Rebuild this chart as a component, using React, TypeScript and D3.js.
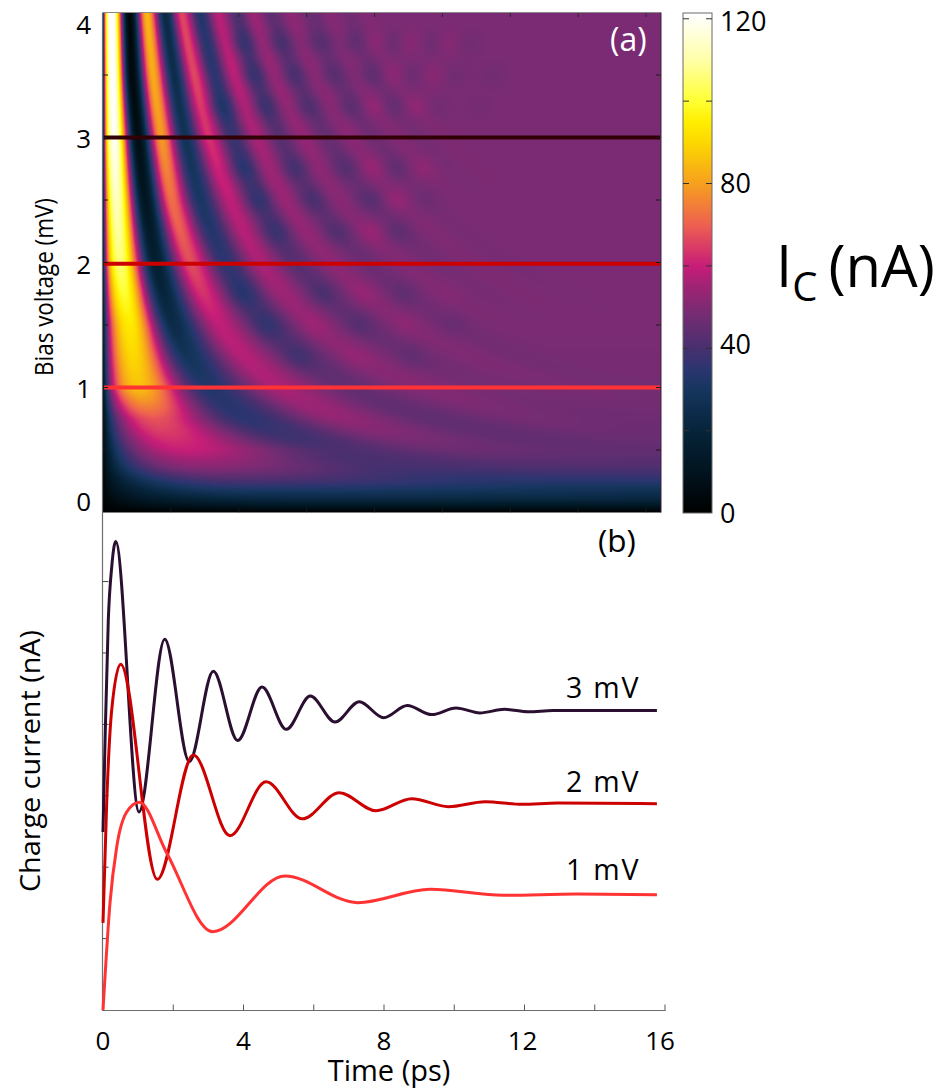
import React, { useMemo } from "react";
import * as d3 from "d3";

// ---------- Panel (b): extrema and shoulders of the traces (ps, nA incl. offset)
const trace3Time = [0, 0.057, 0.151, 0.248, 0.362, 1.025, 1.757, 2.457, 3.14, 3.835, 4.527, 5.219, 5.902, 6.605, 7.297, 7.991, 8.663, 9.358, 10.05, 10.73, 11.43, 12.11, 12.81, 15.77];
const trace3Value = [74.8, 112.2, 163.9, 186.1, 196.8, 83.2, 155.8, 104.3, 142.3, 113.2, 135.7, 117.9, 131.9, 121.0, 129.5, 122.8, 127.9, 124.1, 126.9, 124.8, 126.3, 125.3, 125.8, 125.8];
const trace2Time = [0, 0.105, 0.248, 0.504, 1.546, 2.571, 3.616, 4.641, 5.674, 6.727, 7.772, 8.789, 9.831, 10.875, 11.92, 12.95, 15.77];
const trace2Value = [36.6, 87.0, 126.1, 145.3, 54.9, 107.1, 73.2, 95.9, 80.3, 91.3, 83.7, 88.8, 85.4, 87.5, 86.4, 87.0, 86.7];
const trace1Time = [0, 0.057, 0.199, 0.39, 0.675, 1.033, 1.814, 3.123, 5.181, 7.251, 9.31, 11.4, 13.49, 15.77];
const trace1Value = [0, 13.9, 45, 68.5, 83.2, 87.3, 66, 32.9, 56.3, 45.1, 50.7, 48.2, 48.7, 48.4];
const traceColors = ["#2a0f30", "#cc0000", "#ff3333"];
const traceLabels = ["3 mV", "2 mV", "1 mV"];
const traceLabelValue = [131, 91.5, 54.5];

// ---------- Panel (a): ridge table. For each bias row: times and currents of alternating peaks/troughs
const rowVoltage = [0.1, 0.25, 0.36, 0.5, 0.75, 1, 1.5, 2, 2.5, 3, 3.5, 4];
const rowFarValue = [20, 35, 41.5, 45, 47, 48, 49, 49, 49, 49, 49, 49];
const rowTimes = [
  [6],
  [4.1, 12.5],
  [3.0, 8.6],
  [2.4, 6.8, 10.4],
  [1.53, 4.2, 7.0, 9.7, 12.5],
  [1.033, 3.123, 5.18, 7.25, 9.31, 11.4, 13.49],
  [0.795, 2.07, 3.44, 4.83, 6.2, 7.57, 8.97, 10.3],
  [0.5, 1.546, 2.571, 3.616, 4.641, 5.674, 6.727, 7.772, 8.789, 9.831, 10.875, 11.92],
  [0.4, 1.24, 2.02, 2.86, 3.75, 4.6, 5.36, 6.19, 6.95, 7.86, 8.7, 9.54],
  [0.33, 1.025, 1.72, 2.42, 3.12, 3.83, 4.527, 5.219, 5.902, 6.605, 7.297, 7.991, 8.663, 9.358, 10.05],
  [0.29, 0.85, 1.47, 2.1, 2.69, 3.29, 3.88, 4.47, 5.06, 5.66, 6.26, 6.86, 7.43, 8.0, 8.6],
  [0.256, 0.775, 1.29, 1.83, 2.32, 2.86, 3.39, 3.94, 4.42, 4.97, 5.51, 6.16, 6.7, 7.25, 7.75],
];
const rowValues = [
  [21],
  [40, 34],
  [51, 40],
  [60, 41, 46.5],
  [68, 35, 53, 44.5, 48],
  [86, 33, 56.3, 45.1, 50.7, 48.2, 48.7],
  [94, 24, 59, 40, 52.5, 45.5, 50.5, 47.5],
  [106, 16.9, 67, 35.2, 56.5, 43, 52, 46.5, 50.2, 47.8, 49.5, 48.4],
  [113, 11, 72, 31, 59, 40, 54, 44.5, 51.5, 46.5, 50, 48.3],
  [120, 6.4, 79, 27.5, 63, 37, 56, 43, 53, 45.5, 51.5, 47, 50.3, 48, 49.6],
  [122, 4, 82, 25, 66, 35, 59, 41, 54, 44.5, 52, 46.5, 50.5, 47.5, 49.8],
  [124, 3, 84, 23, 66, 33, 58, 41, 54, 44, 52, 46, 50.5, 47.5, 49.8],
];
// Checkerboard spots seen on the ripples: [time ps, bias mV, change nA]
const spotList = [
  [4.12, 3.756, -4], [5.24, 3.756, -4], [6.33, 3.756, -3.5], [7.42, 3.756, -3.5], [8.54, 3.756, -3.5], [9.69, 3.756, -3], [10.72, 3.756, -2],
  [8.01, 3.756, 3], [9.07, 3.756, 3], [10.16, 3.756, 3],
  [4.42, 3.5, -4], [5.6, 3.5, -4], [6.77, 3.5, -3.5], [7.95, 3.5, -3.5], [9.13, 3.5, -3], [10.31, 3.5, -2], [11.49, 3.5, -1.5],
  [8.54, 3.5, 3], [9.72, 3.5, 3],
  [3.51, 3.244, -4], [4.77, 3.244, -4], [6.01, 3.244, -3.5], [7.28, 3.244, -3.5], [8.54, 3.244, -3], [9.84, 3.244, -1.5], [11.1, 3.244, -1],
  [7.95, 3.244, 3], [9.19, 3.244, 3],
  [4.12, 2.756, -4], [5.66, 2.756, -4], [7.13, 2.756, -3.5], [8.6, 2.756, -3], [7.95, 2.756, 3], [9.4, 2.756, 2.5],
  [4.54, 2.5, -4], [6.19, 2.5, -4], [7.86, 2.5, -3.5], [9.48, 2.5, -1.5], [8.66, 2.5, 3],
  [5.07, 2.244, -4], [6.89, 2.244, -3.5], [8.69, 2.244, -3], [7.95, 2.244, 3],
  [4.12, 1.756, -4], [6.48, 1.756, -3.5], [8.84, 1.756, -2.5], [7.66, 1.756, 2], [10.07, 1.756, 1],
  [4.86, 1.5, -4], [7.57, 1.5, -3], [10.31, 1.5, -1.5], [6.24, 1.5, 2], [8.95, 1.5, 1.5],
  [5.77, 1.244, -3.5], [9.1, 1.244, -2], [7.48, 1.244, 1.5],
];
const markedVoltages = [3, 1.99, 1];

// Colorbar read-off: current -> colour
const colorValues = [0, 10, 20, 30, 35, 40, 49, 55, 60, 70, 80, 90, 95, 100, 110, 121];
const colorStops = ["#000000", "#01141f", "#06243a", "#16365f", "#2c3570", "#47306f", "#7a2b73", "#9f2374", "#c71d78", "#ee6050", "#f6a01e", "#fcd800", "#ffee00", "#ffff33", "#ffffa8", "#ffffff"];

const heatTimeTicks = [2, 4, 6, 8, 10, 12, 14, 16];
const heatVoltTicks = [0.5, 1, 1.5, 2, 2.5, 3, 3.5];
const heatVoltLabels = [
  { text: "4", value: 3.905 },
  { text: "3", value: 2.99 },
  { text: "2", value: 1.98 },
  { text: "1", value: 0.99 },
  { text: "0", value: 0.09 },
];
const barTicks = [20, 40, 60, 80, 100, 120];
const barLabels = [
  { text: "120", value: 119.5 },
  { text: "80", value: 80 },
  { text: "40", value: 41 },
  { text: "0", value: 0 },
];
const timeTicks = [0, 2, 4, 6, 8, 10, 12, 14, 16];
const timeLabels = [0, 4, 8, 12, 16];
const currentTicks = [30, 60, 90, 120, 150, 180];

const FONT = "'Open Sans', 'Noto Sans', sans-serif";

const heatX = d3.scaleLinear().domain([0, 16.44]).range([103, 661]);
const heatY = d3.scaleLinear().domain([0, 4]).range([512.5, 12.5]);
const barY = d3.scaleLinear().domain([0, 121.4]).range([513, 13]);
const timeX = d3.scaleLinear().domain([0, 16]).range([103, 665]);
const currentY = d3.scaleLinear().domain([0, 208.8]).range([1010, 513]);
const colorOf = d3.scaleLinear<string>().domain(colorValues).range(colorStops).interpolate(d3.interpolateRgb).clamp(true);

function rowProfile(voltage: number) {
  const v = Math.max(voltage, rowVoltage[0]);
  let i = d3.bisectRight(rowVoltage, v) - 1;
  i = Math.min(i, rowVoltage.length - 2);
  const j = i + 1;
  const f = (v - rowVoltage[i]) / (rowVoltage[j] - rowVoltage[i]);
  const n = Math.max(rowTimes[i].length, rowTimes[j].length);
  const phases: number[] = [];
  const values: number[] = [];
  for (let k = 0; k < n; k++) {
    const pj = k < rowTimes[j].length ? rowTimes[j][k] * rowVoltage[j] : rowTimes[i][k] * rowVoltage[i];
    const pi = k < rowTimes[i].length ? rowTimes[i][k] * rowVoltage[i] : pj;
    const vi = k < rowValues[i].length ? rowValues[i][k] : rowFarValue[i];
    const vj = k < rowValues[j].length ? rowValues[j][k] : rowFarValue[j];
    phases.push(pi + (pj - pi) * f);
    values.push(vi + (vj - vi) * f);
  }
  const far = rowFarValue[i] + (rowFarValue[j] - rowFarValue[i]) * f;
  return { v, phases, values, far, fade: Math.min(1, voltage / rowVoltage[0]) };
}

function valueOnRow(p: ReturnType<typeof rowProfile>, t: number) {
  const ph = t * p.v;
  const { phases, values, far } = p;
  if (ph <= phases[0]) {
    const u = Math.pow(ph / phases[0], 0.6);
    return values[0] * Math.sin((Math.PI / 2) * u);
  }
  const last = phases.length - 1;
  if (ph >= phases[last]) {
    const s = Math.min(1, (ph - phases[last]) / 2);
    const e = 0.5 - 0.5 * Math.cos(Math.PI * s);
    return values[last] + (far - values[last]) * e;
  }
  const k = d3.bisectRight(phases, ph) - 1;
  const s = (ph - phases[k]) / (phases[k + 1] - phases[k]);
  const e = 0.5 - 0.5 * Math.cos(Math.PI * s);
  return values[k] + (values[k + 1] - values[k]) * e;
}

function renderHeat() {
  const [x0, x1] = heatX.range();
  const [y1, y0] = heatY.range();
  const w = Math.round(x1 - x0);
  const h = Math.round(y1 - y0);
  const canvas = document.createElement("canvas");
  canvas.width = w;
  canvas.height = h;
  const ctx = canvas.getContext("2d")!;
  const img = ctx.createImageData(w, h);
  const rgbCache = new Map<number, d3.RGBColor>();
  const rgb = (val: number) => {
    const key = Math.round(val * 4);
    let c = rgbCache.get(key);
    if (!c) {
      c = d3.rgb(colorOf(key / 4));
      rgbCache.set(key, c);
    }
    return c;
  };
  for (let py = 0; py < h; py++) {
    const V = heatY.invert(y0 + py + 0.5);
    const prof = rowProfile(V);
    const near = spotList
      .map((s) => ({ t: s[0], a: s[2] * Math.exp(-Math.pow((V - s[1]) / 0.07, 2) / 2) }))
      .filter((s) => Math.abs(s.a) > 0.03);
    for (let px = 0; px < w; px++) {
      const t = heatX.invert(x0 + px + 0.5);
      let val = valueOnRow(prof, t);
      for (const s of near) val += s.a * Math.exp(-Math.pow((t - s.t) / 0.3, 2) / 2);
      val *= prof.fade;
      const c = rgb(val);
      const o = (py * w + px) * 4;
      img.data[o] = c.r;
      img.data[o + 1] = c.g;
      img.data[o + 2] = c.b;
      img.data[o + 3] = 255;
    }
  }
  ctx.putImageData(img, 0, 0);
  return canvas.toDataURL("image/png");
}

export default function App() {
  const heatHref = useMemo(renderHeat, []);
  const traces = [
    { time: trace3Time, value: trace3Value },
    { time: trace2Time, value: trace2Value },
    { time: trace1Time, value: trace1Value },
  ];
  const tracePath = (tr: { time: number[]; value: number[] }) =>
    d3
      .line<number>()
      .x((t) => timeX(t))
      .y((_, i) => currentY(tr.value[i]))
      .curve(d3.curveMonotoneX)(tr.time) as string;
  const barSamples = d3.range(0, 121.5, 1);
  const [hx0, hx1] = heatX.range();
  const [hy0, hy1] = heatY.range();
  return (
    <svg width={947} height={1090} style={{ position: "absolute", left: 0, top: 0, display: "block" }} fontFamily={FONT}>
      <defs>
        <linearGradient id="bar" x1="0" y1="1" x2="0" y2="0">
          {barSamples.map((v) => (
            <stop key={v} offset={v / 121.4} stopColor={colorOf(v)} />
          ))}
        </linearGradient>
      </defs>

      {/* Panel (a) */}
      <image href={heatHref} x={hx0} y={hy1} width={hx1 - hx0} height={hy0 - hy1} preserveAspectRatio="none" />
      {markedVoltages.map((v, i) => (
        <line key={v} x1={hx0 + 1} x2={hx1 - 1} y1={heatY(v)} y2={heatY(v)} stroke={i === 0 ? "#300006" : traceColors[i]} strokeWidth={4} />
      ))}
      {heatTimeTicks.map((t) => (
        <g key={t} stroke="#2a2a2a" strokeWidth={1}>
          <line x1={heatX(t)} x2={heatX(t)} y1={hy1} y2={hy1 + 4.5} />
          <line x1={heatX(t)} x2={heatX(t)} y1={hy0} y2={hy0 - 4.5} opacity={0.5} />
        </g>
      ))}
      {heatVoltTicks.map((v) => (
        <g key={v} stroke="#1a1a1a" strokeWidth={1}>
          <line x1={hx0} x2={hx0 + 5} y1={heatY(v)} y2={heatY(v)} />
          <line x1={hx1} x2={hx1 - 5} y1={heatY(v)} y2={heatY(v)} />
        </g>
      ))}
      <line x1={hx0} x2={hx1} y1={hy1} y2={hy1} stroke="#8a8a8a" strokeWidth={1} />
      <line x1={hx1} x2={hx1} y1={hy1} y2={hy0} stroke="#3a2040" strokeWidth={1} />
      {heatVoltLabels.map((l) => (
        <text key={l.text} x={91} y={heatY(l.value)} dy="0.36em" textAnchor="end" fontSize={26} fill="#000">
          {l.text}
        </text>
      ))}
      <text transform="translate(44,287) rotate(-90)" textAnchor="middle" dy="0.36em" fontSize={26} textLength={178} lengthAdjust="spacingAndGlyphs" fill="#000">
        Bias voltage (mV)
      </text>
      <text x={610} y={51} fontSize={32} fill="#fff">
        (a)
      </text>

      {/* Colour bar */}
      <rect x={683} y={13} width={29} height={500} fill="url(#bar)" stroke="#6a6a6a" strokeWidth={1} />
      {barTicks.map((v) => (
        <g key={v} stroke="#333" strokeWidth={1}>
          <line x1={683} x2={689} y1={barY(v)} y2={barY(v)} />
          <line x1={712} x2={706} y1={barY(v)} y2={barY(v)} />
        </g>
      ))}
      {barLabels.map((l) => (
        <text key={l.text} x={720} y={barY(l.value)} dy="0.36em" fontSize={27} fill="#000">
          {l.text}
        </text>
      ))}
      <text x={776} y={287} fontSize={58} fill="#000">
        I
        <tspan fontSize={40} dy={14}>
          C
        </tspan>
        <tspan fontSize={58} dy={-14} dx={11}>
          (nA)
        </tspan>
      </text>

      {/* Panel (b) */}
      <line x1={102.5} x2={102.5} y1={12.5} y2={1010.5} stroke="#6e6e6e" strokeWidth={1.2} />
      <line x1={102.5} x2={665.5} y1={1010.5} y2={1010.5} stroke="#6e6e6e" strokeWidth={1} />
      {timeTicks.map((t) => (
        <line key={t} x1={timeX(t)} x2={timeX(t)} y1={1004.5} y2={1010.5} stroke="#555" strokeWidth={1} />
      ))}
      {currentTicks.map((v) => (
        <line key={v} x1={102.5} x2={108.5} y1={currentY(v)} y2={currentY(v)} stroke="#444" strokeWidth={1} />
      ))}
      {traces.map((tr, i) => (
        <path key={i} d={tracePath(tr)} fill="none" stroke={traceColors[i]} strokeWidth={3} strokeLinejoin="round" />
      ))}
      {traceLabels.map((l, i) => (
        <text key={l} x={566} y={currentY(traceLabelValue[i])} fontSize={28.5} letterSpacing={1.8} fill="#000">
          {l}
        </text>
      ))}
      <text x={598} y={552} fontSize={31.5} fill="#000">
        (b)
      </text>
      {timeLabels.map((t) => (
        <text key={t} x={timeX(t) - (t === 12 ? 2 : t === 16 ? 5 : 0)} y={1050} textAnchor="middle" fontSize={26} fill="#000">
          {t}
        </text>
      ))}
      <text x={389} y={1081} textAnchor="middle" fontSize={29} fill="#000">
        Time (ps)
      </text>
      <text transform="translate(30,761) rotate(-90)" textAnchor="middle" dy="0.36em" fontSize={26.5} textLength={262} lengthAdjust="spacingAndGlyphs" fill="#000">
        Charge current (nA)
      </text>
    </svg>
  );
}
